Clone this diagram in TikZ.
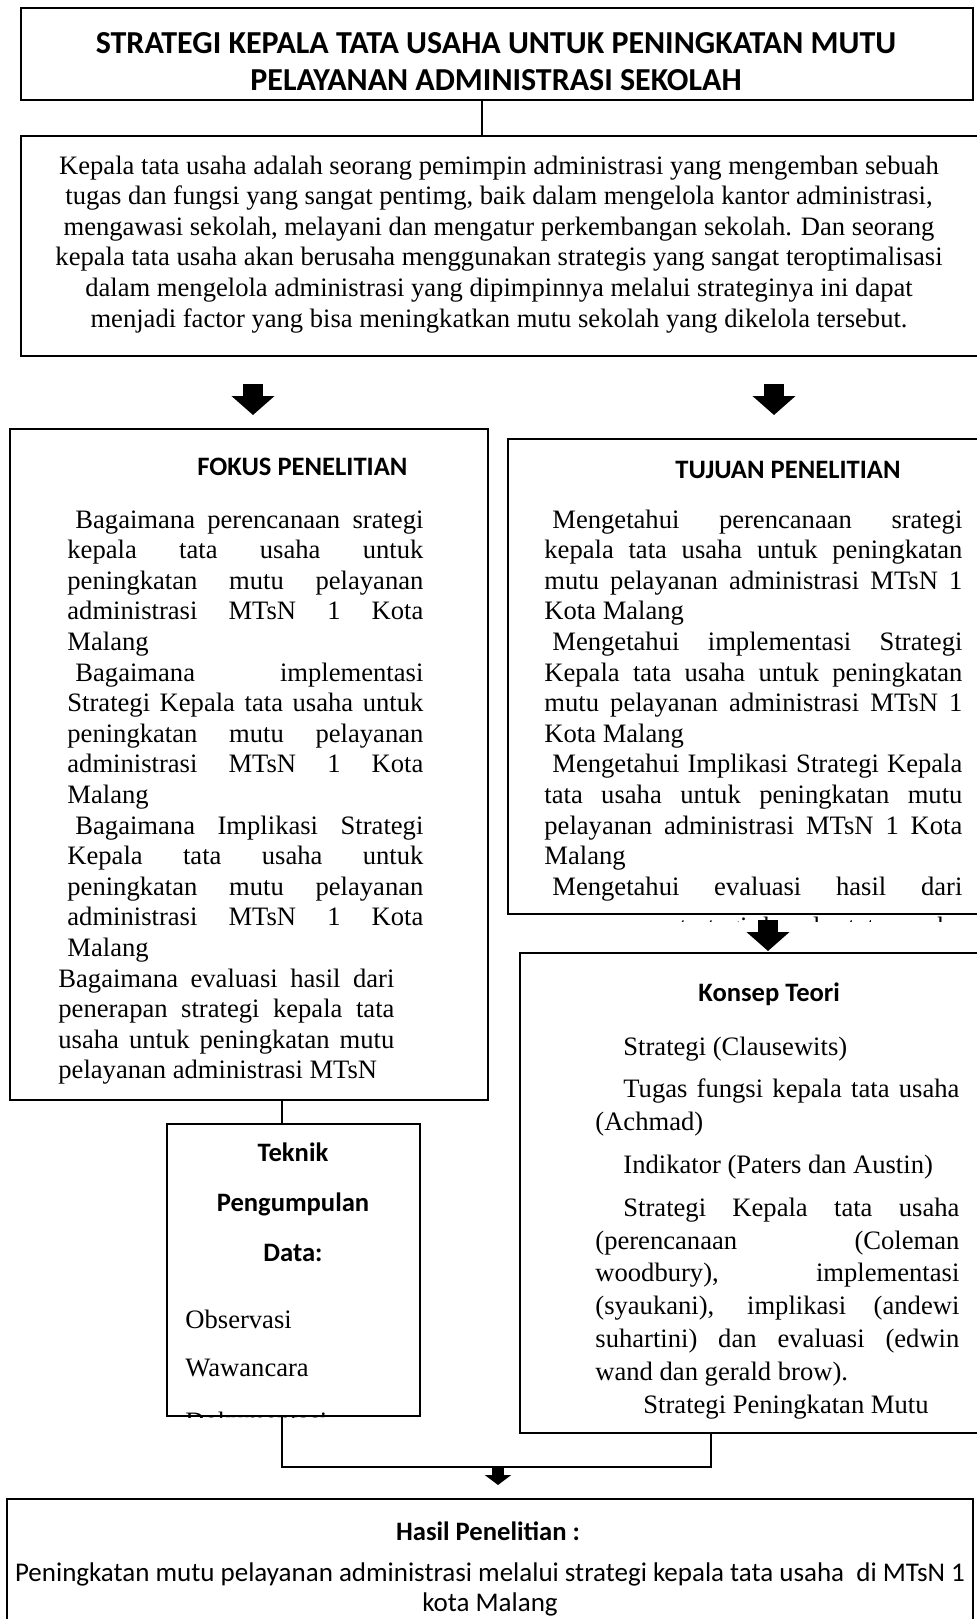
\documentclass[tikz,border=0pt]{standalone}
\usepackage{fontspec}
\setmainfont{Liberation Serif}
\setsansfont{Carlito}
\usetikzlibrary{arrows.meta}

\newcommand{\isi}{\fontsize{13.3}{15.3}\selectfont}
\newcommand{\kepala}{\sffamily\bfseries\fontsize{13.3}{15.3}\selectfont}
\newcommand{\spasi}{\hspace*{4pt}}

\tikzset{
  kotak/.style={draw, line width=1pt, inner sep=0pt, anchor=north west},
  teks/.style={inner sep=0pt, anchor=base west, font=\isi},
  tengah/.style={inner sep=0pt, anchor=base, font=\isi},
  judulkecil/.style={inner sep=0pt, anchor=base west, font=\kepala},
  garis/.style={line width=0.8pt},
  panah/.style={line width=10pt, -{Triangle[width=21pt,length=9.5pt]}},
  panahkecil/.style={line width=6pt, -{Triangle[width=13pt,length=5pt]}}
}

\begin{document}
\begin{tikzpicture}[x=0.5pt,y=-0.5pt]
\useasboundingbox (0,0) rectangle (976,1619);

\node [kotak, minimum width=476pt, minimum height=46pt] (judul) at (20,7) {};
\node [kotak, minimum width=490pt, minimum height=110pt] (deskripsi) at (20,135) {};
\node [kotak, minimum width=239pt, minimum height=335.5pt] (fokus) at (9,428) {};
\node [kotak, minimum width=240pt, minimum height=237.5pt] (tujuan) at (507,438) {};
\node [kotak, minimum width=235pt, minimum height=240pt] (konsep) at (519,952) {};
\node [kotak, minimum width=126.5pt, minimum height=146pt] (teknik) at (166,1123) {};
\node [kotak, minimum width=483pt, minimum height=100pt] (hasil) at (6,1498) {};

\node [tengah, font=\sffamily\bfseries\fontsize{16}{18.5}\selectfont] (tjudul) at (496,53)
  {\parbox[t]{480pt}{\centering STRATEGI KEPALA TATA USAHA UNTUK PENINGKATAN MUTU\\PELAYANAN ADMINISTRASI SEKOLAH}};
\node [tengah] (tdeskripsi) at (499,174)
  {\parbox[t]{480pt}{\centering Kepala tata usaha adalah seorang pemimpin administrasi yang mengemban sebuah\\
  tugas dan fungsi yang sangat pentimg, baik dalam mengelola kantor administrasi,\\
  mengawasi sekolah, melayani dan mengatur perkembangan sekolah. Dan seorang\\
  kepala tata usaha akan berusaha menggunakan strategis yang sangat teroptimalisasi\\
  dalam mengelola administrasi yang dipimpinnya melalui strateginya ini dapat\\
  menjadi factor yang bisa meningkatkan mutu sekolah yang dikelola tersebut.}};

\node [judulkecil] (tfokus) at (197,475) {FOKUS PENELITIAN};
\node [teks] (isifokus) at (67,528) {\parbox[t]{178pt}{\tolerance=10000 \hyphenpenalty=10000
  \spasi Bagaimana perencanaan srategi\linebreak kepala tata usaha untuk\linebreak
  peningkatan mutu pelayanan\linebreak administrasi MTsN 1 Kota\linebreak Malang\par
  \spasi Bagaimana implementasi\linebreak Strategi Kepala tata usaha untuk\linebreak
  peningkatan mutu pelayanan\linebreak administrasi MTsN 1 Kota\linebreak Malang\par
  \spasi Bagaimana Implikasi Strategi\linebreak Kepala tata usaha untuk\linebreak
  peningkatan mutu pelayanan\linebreak administrasi MTsN 1 Kota\linebreak Malang}};
\node [teks] (isifokus2) at (58,987) {\parbox[t]{168pt}{\tolerance=10000 \hyphenpenalty=10000
  Bagaimana evaluasi hasil dari\linebreak penerapan strategi kepala tata\linebreak
  usaha untuk peningkatan mutu\linebreak pelayanan administrasi MTsN}};

\node [judulkecil] (ttujuan) at (675,478) {TUJUAN PENELITIAN};
\node [teks] (isitujuan) at (544,528) {\parbox[t]{209pt}{\tolerance=10000 \hyphenpenalty=10000
  \spasi Mengetahui perencanaan srategi\linebreak kepala tata usaha untuk peningkatan\linebreak
  mutu pelayanan administrasi MTsN 1\linebreak Kota Malang\par
  \spasi Mengetahui implementasi Strategi\linebreak Kepala tata usaha untuk peningkatan\linebreak
  mutu pelayanan administrasi MTsN 1\linebreak Kota Malang\par
  \spasi Mengetahui Implikasi Strategi Kepala\linebreak tata usaha untuk peningkatan mutu\linebreak
  pelayanan administrasi MTsN 1 Kota\linebreak Malang\par
  \makebox[\linewidth][s]{\spasi Mengetahui evaluasi hasil dari}}};
\begin{scope}
\clip (507,914) rectangle (990,921);
\node [teks] (sisatujuan) at (544,935)
  {\makebox[209pt][s]{penerapan strategi kepala tata usaha}};
\end{scope}

\node [judulkecil] (tkonsep) at (698,1001) {Konsep Teori};
\node [teks, font=\fontsize{13.3}{16.4}\selectfont] (isikonsep) at (595,1055)
  {\parbox[t]{182pt}{\tolerance=10000 \hyphenpenalty=10000 \parindent=14pt \parskip=5pt
  Strategi (Clausewits)\par
  Tugas fungsi kepala tata usaha\linebreak (Achmad)\par
  Indikator (Paters dan Austin)\par
  Strategi Kepala tata usaha\linebreak (perencanaan (Coleman\linebreak woodbury), implementasi\linebreak
  (syaukani), implikasi (andewi\linebreak suhartini) dan evaluasi (edwin\linebreak wand dan gerald brow).\\
  \hspace*{24pt}Strategi Peningkatan Mutu}};

\node [tengah, font=\sffamily\bfseries\fontsize{13.3}{25}\selectfont] (tteknik) at (293,1161)
  {\parbox[t]{120pt}{\centering Teknik\\Pengumpulan\\Data:}};
\begin{scope}
\clip (teknik.north west) rectangle (teknik.south east);
\node [teks, font=\fontsize{13.3}{24}\selectfont] (isiteknik) at (185,1328)
  {\parbox[t]{110pt}{Observasi\\Wawancara\\[3pt]Dokumentasi}};
\end{scope}

\node [tengah, font=\kepala] (thasil) at (488,1540) {Hasil Penelitian :};
\node [tengah, font=\sffamily\fontsize{13.5}{15}\selectfont] (isihasil) at (490,1581)
  {\parbox[t]{480pt}{\centering Peningkatan mutu pelayanan administrasi melalui strategi kepala tata usaha\ \ di MTsN 1\\kota Malang}};

\coordinate (a1) at (482,0);
\coordinate (a2) at (253,0);
\coordinate (a3) at (774,0);
\coordinate (a4) at (768,0);
\coordinate (a5) at (282,0);
\coordinate (a6) at (711,0);
\coordinate (gabung) at (498,1467);

\draw [garis] (a1 |- judul.south) -- (a1 |- deskripsi.north);
\draw [panah, shorten <=13.5pt, shorten >=6.5pt] (a2 |- deskripsi.south) -- (a2 |- fokus.north);
\draw [panah, shorten <=13.5pt, shorten >=11.5pt] (a3 |- deskripsi.south) -- (a3 |- tujuan.north);
\draw [panah, shorten <=2.5pt, shorten >=0.5pt] (a4 |- tujuan.south) -- (a4 |- konsep.north);
\draw [garis] (a5 |- fokus.south) -- (a5 |- teknik.north);
\draw [garis] (a5 |- teknik.south) -- (a5 |- gabung) -- (a6 |- gabung) -- (a6 |- konsep.south);
\draw [panahkecil, shorten >=6.5pt] (gabung) -- (gabung |- hasil.north);
\end{tikzpicture}
\end{document}
